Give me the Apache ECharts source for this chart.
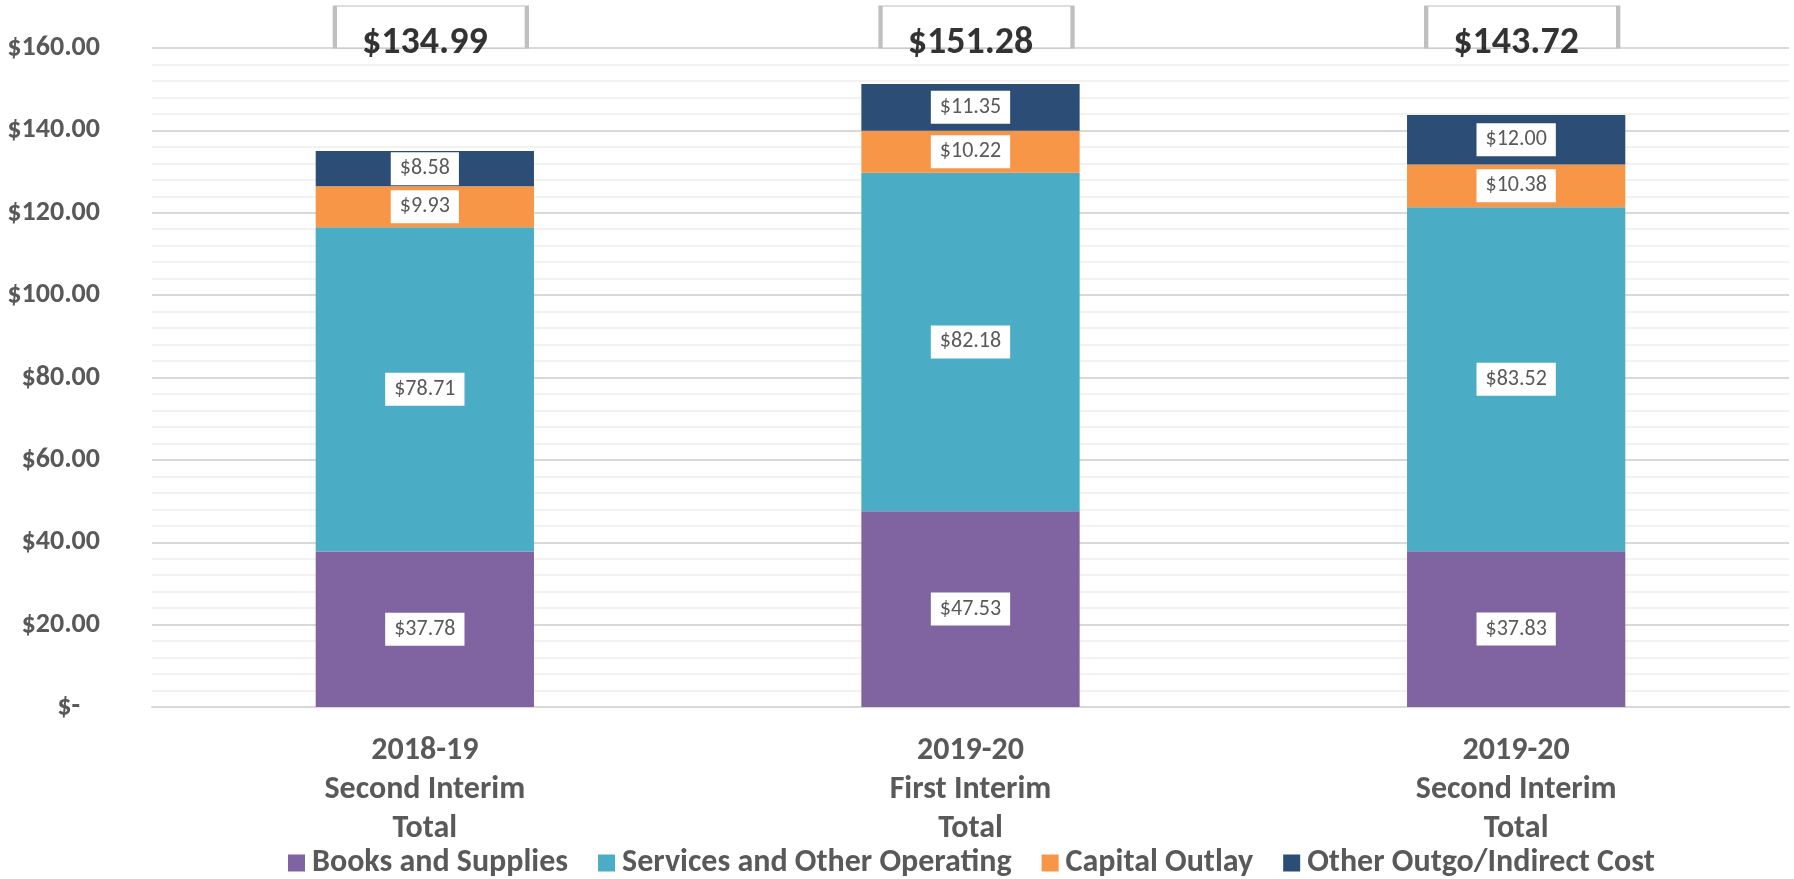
<!DOCTYPE html>
<html>
<head>
<meta charset="utf-8">
<script src="https://cdn.jsdelivr.net/npm/echarts@6/dist/echarts.min.js"></script>
<style>
html,body{margin:0;padding:0;background:#fff;}
#chart{width:1794px;height:879px;}
</style>
</head>
<body>
<div id="chart"></div>
<script>
const categories = ['2018-19\nSecond Interim\nTotal', '2019-20\nFirst Interim\nTotal', '2019-20\nSecond Interim\nTotal'];
const seriesNames = ['Books and Supplies', 'Services and Other Operating', 'Capital Outlay', 'Other Outgo/Indirect Cost'];
const booksSupplies = [37.78, 47.53, 37.83];
const servicesOperating = [78.71, 82.18, 83.52];
const capitalOutlay = [9.93, 10.22, 10.38];
const otherOutgo = [8.58, 11.35, 12.00];
const totals = [134.99, 151.28, 143.72];
const yTickMax = 160;
const yTickInterval = 20;

const colors = ['#8064A2', '#4BACC6', '#F79646', '#2C4D75'];
const FONT = 'Carlito, Lato, sans-serif';
const fmt = v => '$' + v.toFixed(2);

const valueLists = [booksSupplies, servicesOperating, capitalOutlay, otherOutgo];

const barSeries = valueLists.map((vals, i) => ({
  name: seriesNames[i],
  type: 'bar',
  stack: 'total',
  barWidth: '40%',
  data: vals,
  itemStyle: { color: colors[i] },
  label: {
    show: true,
    position: 'inside',
    formatter: p => fmt(p.value),
    color: '#595959',
    fontFamily: FONT,
    fontSize: 22,
    backgroundColor: '#ffffff',
    padding: [6, 9, 5, 9]
  },
  z: 2
}));

const chart = echarts.init(document.getElementById('chart'), null, { renderer: 'canvas' });
chart.setOption({
  animation: false,
  backgroundColor: '#ffffff',
  textStyle: { fontFamily: FONT },
  grid: { left: 152, right: 5, top: 48, bottom: 172, containLabel: false },
  legend: {
    data: seriesNames,
    top: 842,
    left: 283,
    icon: 'rect',
    itemWidth: 17,
    itemHeight: 17,
    itemGap: 30,
    textStyle: { color: '#595959', fontSize: 32, fontWeight: 'bold', fontFamily: FONT, padding: [0, 0, 0, 2] }
  },
  xAxis: {
    type: 'category',
    data: categories,
    axisTick: { show: false },
    axisLine: { show: true, lineStyle: { color: '#d9d9d9', width: 2 } },
    axisLabel: {
      color: '#595959', fontSize: 32, fontWeight: 'bold', fontFamily: FONT,
      lineHeight: 39, margin: 24
    }
  },
  yAxis: {
    type: 'value',
    min: 0,
    max: yTickMax,
    interval: yTickInterval,
    axisLine: { show: false },
    axisTick: { show: false },
    splitLine: { show: true, lineStyle: { color: '#d9d9d9', width: 2 } },
    minorTick: { show: false, splitNumber: 5 },
    minorSplitLine: { show: true, lineStyle: { color: '#f2f2f2', width: 2 } },
    axisLabel: {
      color: '#595959', fontSize: 28, fontWeight: 'bold', fontFamily: FONT, margin: 52,
      formatter: v => v === 0 ? '{z|$-}' : fmt(v),
      rich: { z: { color: '#595959', fontSize: 28, fontWeight: 'bold', fontFamily: FONT, padding: [0, 20, 0, 0] } }
    }
  },
  series: barSeries.concat([
    {
      name: 'totalBox',
      type: 'scatter',
      clip: false,
      silent: true,
      symbol: 'rect',
      symbolSize: [192, 42],
      symbolOffset: [6, -21],
      itemStyle: { color: '#ffffff', borderColor: '#bfbfbf', borderWidth: 2, opacity: 1 },
      data: categories.map((c, i) => [i, yTickMax]),
      z: 5
    },
    {
      name: 'totalText',
      type: 'scatter',
      clip: false,
      silent: true,
      symbolSize: 0,
      data: totals.map((t, i) => [i, yTickMax, t]),
      label: {
        show: true,
        position: 'inside',
        offset: [0, -5],
        formatter: p => fmt(p.value[2]),
        color: '#000000',
        fontSize: 38,
        fontWeight: 'bold',
        fontFamily: FONT
      },
      z: 6
    }
  ])
});
</script>
</body>
</html>
